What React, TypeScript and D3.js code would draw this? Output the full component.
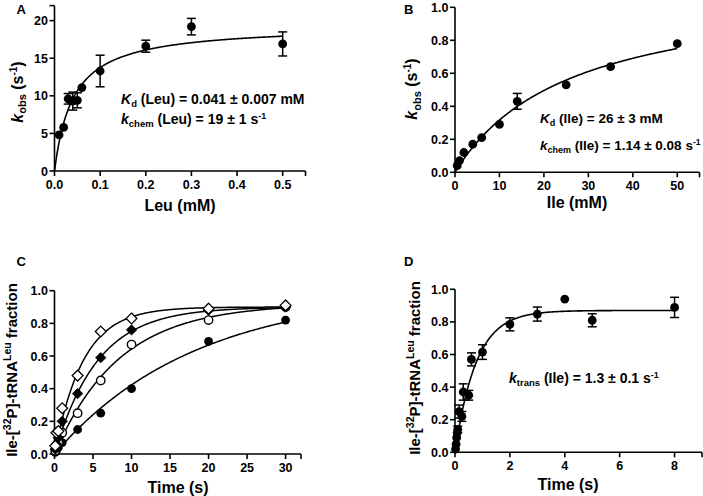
import React from 'react';
import * as d3 from 'd3';

const FONT = "'Liberation Sans', Arial, Helvetica, sans-serif";

// ---------- Panel A: kobs vs Leu ----------
const leuConc = [0.01, 0.02, 0.03, 0.04, 0.05, 0.06, 0.1, 0.2, 0.3, 0.5];
const leuKobs = [4.8, 5.8, 9.6, 9.3, 9.4, 11.1, 13.3, 16.6, 19.2, 16.9];
const leuErr = [0, 0, 0.7, 1.2, 1.0, 0, 2.1, 0.8, 1.1, 1.6];
const leuKd = 0.041;
const leuKchem = 19.4;
const aXTicks = [0, 0.1, 0.2, 0.3, 0.4, 0.5];
const aXLabels = ['0.0', '0.1', '0.2', '0.3', '0.4', '0.5'];
const aYTicks = [0, 5, 10, 15, 20];
const aYLabels = ['0', '5', '10', '15', '20'];

// ---------- Panel B: kobs vs Ile ----------
const ileConc = [0.5, 1, 2, 4, 6, 10, 14, 25, 35, 50];
const ileKobs = [0.04, 0.07, 0.12, 0.17, 0.21, 0.29, 0.43, 0.53, 0.64, 0.78];
const ileErr = [0, 0, 0, 0, 0, 0, 0.048, 0, 0, 0];
const ileKd = 26;
const ileKchem = 1.14;
const bXTicks = [0, 10, 20, 30, 40, 50];
const bXLabels = ['0', '10', '20', '30', '40', '50'];
const fracTicks = [0, 0.2, 0.4, 0.6, 0.8, 1.0];
const fracLabels = ['0.0', '0.2', '0.4', '0.6', '0.8', '1.0'];

// ---------- Panel C: time courses ----------
const cTime = [0.1, 0.25, 0.5, 1, 3, 6, 10, 20, 30];
const cFilledCircle = [0.01, 0.02, 0.04, 0.07, 0.15, 0.25, 0.40, 0.69, 0.82];
const cOpenCircle = [0.02, 0.04, 0.07, 0.13, 0.25, 0.45, 0.67, 0.82, 0.90];
const cFilledDiamond = [0.03, 0.06, 0.10, 0.20, 0.37, 0.59, 0.76, 0.88, 0.90];
const cOpenDiamond = [0.05, 0.13, 0.14, 0.28, 0.48, 0.75, 0.83, 0.89, 0.91];
const cAmp = [1.0, 0.92, 0.9, 0.9];
const cRate = [0.055, 0.12, 0.18, 0.27];
const cXTicks = [0, 5, 10, 15, 20, 25, 30];
const cXLabels = ['0', '5', '10', '15', '20', '25', '30'];

// ---------- Panel D: transfer ----------
const dTime = [0.02, 0.04, 0.06, 0.08, 0.1, 0.15, 0.25, 0.3, 0.5, 0.6, 1, 2, 3, 4, 5, 8];
const dFrac = [0.02, 0.05, 0.09, 0.12, 0.14, 0.25, 0.22, 0.37, 0.35, 0.57, 0.615, 0.785, 0.848, 0.94, 0.81, 0.889];
const dErr = [0, 0, 0, 0, 0.02, 0.04, 0.03, 0.05, 0.03, 0.04, 0.045, 0.04, 0.043, 0, 0.04, 0.062];
const dAmp = 0.87;
const dRate = 1.3;
const dXTicks = [0, 2, 4, 6, 8];
const dXLabels = ['0', '2', '4', '6', '8'];

type Scale = d3.ScaleLinear<number, number>;

function Axes({ x, y, xTicks, xLabels, yTicks, yLabels }: { x: Scale; y: Scale; xTicks: number[]; xLabels: string[]; yTicks: number[]; yLabels: string[] }) {
  const [x0, x1] = x.range();
  const [y0, y1] = y.range();
  const xEnd = x.domain()[1];
  const yEnd = y.domain()[1];
  const xt = xTicks.includes(xEnd) ? xTicks : [...xTicks, xEnd];
  const yt = yTicks.includes(yEnd) ? yTicks : [...yTicks, yEnd];
  return (
    <g>
      <line x1={x0} x2={x1} y1={y0} y2={y0} stroke="#000" strokeWidth={1.6} />
      <line x1={x0} x2={x0} y1={y0} y2={y1} stroke="#000" strokeWidth={1.6} />
      {xt.map((t, i) => (
        <line key={'xt' + i} x1={x(t)} x2={x(t)} y1={y0} y2={y0 + 5} stroke="#000" strokeWidth={1.6} />
      ))}
      {yt.map((t, i) => (
        <line key={'yt' + i} x1={x0} x2={x0 - 5} y1={y(t)} y2={y(t)} stroke="#000" strokeWidth={1.6} />
      ))}
      {xTicks.map((t, i) => (
        <text key={'xl' + i} x={x(t)} y={y0 + 17.5} textAnchor="middle" fontSize={12.5} fontWeight="bold" fontFamily={FONT}>{xLabels[i]}</text>
      ))}
      {yTicks.map((t, i) => (
        <text key={'yl' + i} x={x0 - 6.5} y={y(t) + 4.5} textAnchor="end" fontSize={12.5} fontWeight="bold" fontFamily={FONT}>{yLabels[i]}</text>
      ))}
    </g>
  );
}

function Marker({ type, cx, cy }: { type: string; cx: number; cy: number }) {
  if (type === 'filledCircle') return <circle cx={cx} cy={cy} r={4.4} fill="#000" />;
  if (type === 'openCircle') return <circle cx={cx} cy={cy} r={4.2} fill="#fff" stroke="#000" strokeWidth={1.4} />;
  const s = type === 'filledDiamond' ? 5.2 : 5.4;
  const p = `M${cx},${cy - s}L${cx + s},${cy}L${cx},${cy + s}L${cx - s},${cy}Z`;
  if (type === 'filledDiamond') return <path d={p} fill="#000" stroke="#000" strokeWidth={0.8} />;
  return <path d={p} fill="#fff" stroke="#000" strokeWidth={1.3} />;
}

function ErrorBars({ x, y, xs, ys, es }: { x: Scale; y: Scale; xs: number[]; ys: number[]; es: number[] }) {
  return (
    <g stroke="#000" strokeWidth={1.5}>
      {xs.map((v, i) => {
        if (!es[i]) return null;
        const cx = x(v);
        const yt = y(ys[i] + es[i]);
        const yb = y(ys[i] - es[i]);
        return (
          <g key={i}>
            <line x1={cx} x2={cx} y1={yt} y2={yb} />
            <line x1={cx - 4.5} x2={cx + 4.5} y1={yt} y2={yt} />
            <line x1={cx - 4.5} x2={cx + 4.5} y1={yb} y2={yb} />
          </g>
        );
      })}
    </g>
  );
}

function curvePath(x: Scale, y: Scale, xmax: number, f: (t: number) => number) {
  const n = 300;
  const pts: [number, number][] = [];
  for (let i = 0; i <= n; i++) {
    const t = (xmax * i) / n;
    pts.push([t, f(t)]);
  }
  return d3.line<[number, number]>().x((d) => x(d[0])).y((d) => y(d[1]))(pts) || '';
}

const txt = { fontFamily: FONT, fontWeight: 'bold' as const };

export default function App() {
  const ax = d3.scaleLinear().domain([0, 0.55]).range([54.5, 305.5]);
  const ay = d3.scaleLinear().domain([0, 22]).range([171, 5.6]);
  const bx = d3.scaleLinear().domain([0, 55]).range([455, 699.5]);
  const by = d3.scaleLinear().domain([0, 1]).range([172.3, 7.3]);
  const cx = d3.scaleLinear().domain([0, 32]).range([54.5, 301]);
  const cy = d3.scaleLinear().domain([0, 1]).range([454, 290.7]);
  const dx = d3.scaleLinear().domain([0, 9]).range([455, 702]);
  const dy = d3.scaleLinear().domain([0, 1]).range([452.3, 289.3]);

  const cSeries = [
    { ys: cFilledCircle, type: 'filledCircle' },
    { ys: cOpenCircle, type: 'openCircle' },
    { ys: cFilledDiamond, type: 'filledDiamond' },
    { ys: cOpenDiamond, type: 'openDiamond' },
  ];

  const fracTitle = (x: number, yc: number) => (
    <text transform={`translate(${x},${yc}) rotate(-90)`} textAnchor="middle" fontSize={15} {...txt}>
      Ile-[<tspan dy={-5.5} fontSize={10.5}>32</tspan><tspan dy={5.5}>P]-tRNA</tspan><tspan dy={-5.5} fontSize={10.5}>Leu</tspan><tspan dy={5.5}> fraction</tspan>
    </text>
  );

  const kobsTitle = (x: number, yc: number) => (
    <text transform={`translate(${x},${yc}) rotate(-90)`} textAnchor="middle" fontSize={16} {...txt}>
      <tspan fontStyle="italic">k</tspan><tspan dy={3.5} fontSize={11}>obs</tspan><tspan dy={-3.5}> (s</tspan><tspan dy={-6} fontSize={10}>-1</tspan><tspan dy={6}>)</tspan>
    </text>
  );

  return (
    <svg width={703} height={496} style={{ position: 'absolute', left: 0, top: 0, background: '#fff' }}>
      <rect width={703} height={496} fill="#fff" />

      {/* ---------- A ---------- */}
      <text x={16.5} y={13.5} fontSize={13} {...txt}>A</text>
      <Axes x={ax} y={ay} xTicks={aXTicks} xLabels={aXLabels} yTicks={aYTicks} yLabels={aYLabels} />
      <path d={curvePath(ax, ay, 0.5, (s) => (leuKchem * s) / (leuKd + s))} fill="none" stroke="#000" strokeWidth={1.6} />
      <ErrorBars x={ax} y={ay} xs={leuConc} ys={leuKobs} es={leuErr} />
      {leuConc.map((v, i) => <Marker key={i} type="filledCircle" cx={ax(v)} cy={ay(leuKobs[i])} />)}
      <text x={121} y={103.5} fontSize={14} {...txt}>
        <tspan fontStyle="italic">K</tspan><tspan dy={3} fontSize={9.5}>d</tspan><tspan dy={-3}> (Leu) = 0.041 ± 0.007 mM</tspan>
      </text>
      <text x={121} y={123.5} fontSize={14} {...txt}>
        <tspan fontStyle="italic">k</tspan><tspan dy={3} fontSize={9.5}>chem</tspan><tspan dy={-3}> (Leu) = 19 ± 1 s</tspan><tspan dy={-5} fontSize={9}>-1</tspan>
      </text>
      {kobsTitle(22.5, 92)}
      <text x={180} y={211} textAnchor="middle" fontSize={16} {...txt}>Leu (mM)</text>

      {/* ---------- B ---------- */}
      <text x={404} y={13.5} fontSize={13} {...txt}>B</text>
      <Axes x={bx} y={by} xTicks={bXTicks} xLabels={bXLabels} yTicks={fracTicks} yLabels={fracLabels} />
      <path d={curvePath(bx, by, 50, (s) => (ileKchem * s) / (ileKd + s))} fill="none" stroke="#000" strokeWidth={1.6} />
      <ErrorBars x={bx} y={by} xs={ileConc} ys={ileKobs} es={ileErr} />
      {ileConc.map((v, i) => <Marker key={i} type="filledCircle" cx={bx(v)} cy={by(ileKobs[i])} />)}
      <text x={540} y={123} fontSize={13.5} {...txt}>
        <tspan fontStyle="italic">K</tspan><tspan dy={3} fontSize={9}>d</tspan><tspan dy={-3}> (Ile) = 26 ± 3 mM</tspan>
      </text>
      <text x={540} y={150} fontSize={13.5} {...txt}>
        <tspan fontStyle="italic">k</tspan><tspan dy={3} fontSize={9}>chem</tspan><tspan dy={-3}> (Ile) = 1.14 ± 0.08 s</tspan><tspan dy={-5} fontSize={8.5}>-1</tspan>
      </text>
      {kobsTitle(417, 89)}
      <text x={577} y={208} textAnchor="middle" fontSize={16} {...txt}>Ile (mM)</text>

      {/* ---------- C ---------- */}
      <text x={16.5} y={266} fontSize={13} {...txt}>C</text>
      <Axes x={cx} y={cy} xTicks={cXTicks} xLabels={cXLabels} yTicks={fracTicks} yLabels={fracLabels} />
      {cSeries.map((s, k) => (
        <path key={k} d={curvePath(cx, cy, 30, (t) => cAmp[k] * (1 - Math.exp(-cRate[k] * t)))} fill="none" stroke="#000" strokeWidth={1.5} />
      ))}
      {cSeries.map((s, k) => (
        <g key={'m' + k}>
          {cTime.map((t, i) => <Marker key={i} type={s.type} cx={cx(t)} cy={cy(s.ys[i])} />)}
        </g>
      ))}
      {fracTitle(16.5, 370)}
      <text x={178} y={493} textAnchor="middle" fontSize={16} {...txt}>Time (s)</text>

      {/* ---------- D ---------- */}
      <text x={404} y={266} fontSize={13} {...txt}>D</text>
      <Axes x={dx} y={dy} xTicks={dXTicks} xLabels={dXLabels} yTicks={fracTicks} yLabels={fracLabels} />
      <path d={curvePath(dx, dy, 8, (t) => dAmp * (1 - Math.exp(-dRate * t)))} fill="none" stroke="#000" strokeWidth={1.6} />
      <ErrorBars x={dx} y={dy} xs={dTime} ys={dFrac} es={dErr} />
      {dTime.map((t, i) => <Marker key={i} type="filledCircle" cx={dx(t)} cy={dy(dFrac[i])} />)}
      <text x={509} y={383} fontSize={14} {...txt}>
        <tspan fontStyle="italic">k</tspan><tspan dy={3} fontSize={9.5}>trans</tspan><tspan dy={-3}> (Ile) = 1.3 ± 0.1 s</tspan><tspan dy={-5} fontSize={9}>-1</tspan>
      </text>
      {fracTitle(419.5, 368)}
      <text x={568} y={490} textAnchor="middle" fontSize={16} {...txt}>Time (s)</text>
    </svg>
  );
}
